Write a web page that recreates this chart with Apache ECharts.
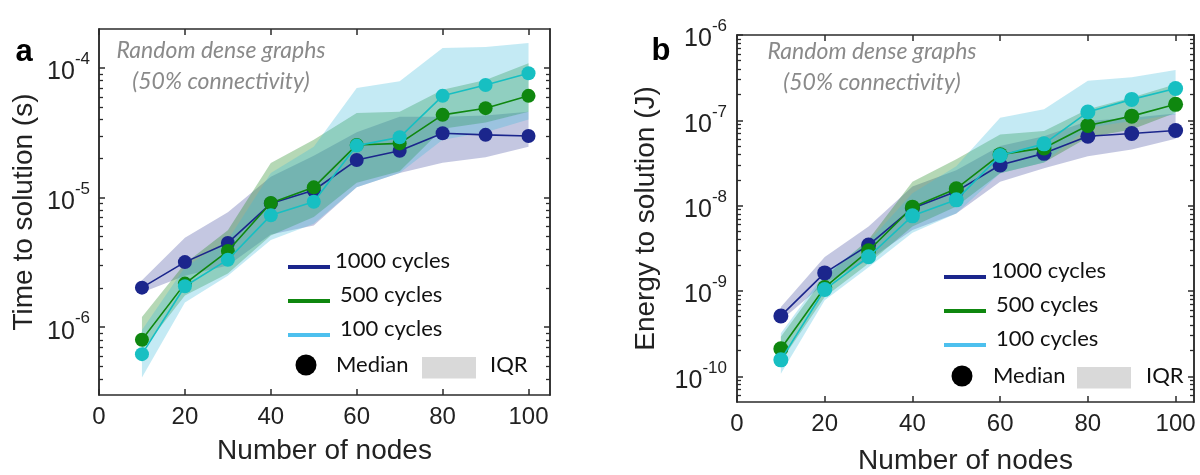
<!DOCTYPE html>
<html><head><meta charset="utf-8">
<script src="https://cdn.jsdelivr.net/npm/echarts@6/dist/echarts.min.js"></script>
<style>html,body{margin:0;padding:0;background:#fff}#c{width:1200px;height:475px}</style>
</head><body><div id="c"></div>
<script>
// ---------- data ----------
const nodes = [10, 20, 30, 40, 50, 60, 70, 80, 90, 100];
const xTickValues = [0, 20, 40, 60, 80, 100];
const seriesNames = ['1000 cycles', '500 cycles', '100 cycles'];

// panel a : time to solution (s)
const timeMed1000 = [2.02e-6, 3.18e-6, 4.47e-6, 9.0e-6, 1.14e-5, 1.95e-5, 2.30e-5, 3.14e-5, 3.05e-5, 2.99e-5];
const timeLo1000  = [1.85e-6, 2.5e-6, 3.0e-6, 5.2e-6, 6.1e-6, 1.2e-5, 1.55e-5, 1.86e-5, 2.05e-5, 2.47e-5];
const timeHi1000  = [2.3e-6, 4.9e-6, 7.7e-6, 1.45e-5, 2.1e-5, 3.2e-5, 4.2e-5, 4.2e-5, 4.3e-5, 4.6e-5];
const timeMed500  = [8.0e-7, 2.17e-6, 3.87e-6, 9.1e-6, 1.2e-5, 2.55e-5, 2.62e-5, 4.35e-5, 4.9e-5, 6.1e-5];
const timeLo500   = [6.6e-7, 1.76e-6, 2.6e-6, 5.1e-6, 7.1e-6, 1.3e-5, 1.6e-5, 3.4e-5, 3.8e-5, 4.6e-5];
const timeHi500   = [1.2e-6, 3.1e-6, 5.6e-6, 1.85e-5, 2.8e-5, 4.5e-5, 4.6e-5, 6.8e-5, 8.1e-5, 1.09e-4];
const timeMed100  = [6.2e-7, 2.07e-6, 3.32e-6, 7.3e-6, 9.3e-6, 2.52e-5, 2.92e-5, 6.1e-5, 7.4e-5, 9.1e-5];
const timeLo100   = [4.1e-7, 1.55e-6, 2.5e-6, 4.7e-6, 6.3e-6, 1.2e-5, 1.55e-5, 2.8e-5, 3.2e-5, 4.0e-5];
const timeHi100   = [9.5e-7, 2.9e-6, 4.7e-6, 1.55e-5, 2.47e-5, 7.0e-5, 7.9e-5, 1.43e-4, 1.45e-4, 1.56e-4];
const timeDecades = [1e-6, 1e-5, 1e-4];

// panel b : energy to solution (J)
const energyMed1000 = [5.1e-10, 1.63e-9, 3.45e-9, 9.3e-9, 1.47e-8, 3.0e-8, 4.1e-8, 6.5e-8, 7.0e-8, 7.6e-8];
const energyLo1000  = [4.5e-10, 1.23e-9, 2.3e-9, 5.2e-9, 8.1e-9, 1.9e-8, 2.75e-8, 3.8e-8, 4.55e-8, 6.1e-8];
const energyHi1000  = [6.5e-10, 2.5e-9, 5.7e-9, 1.68e-8, 2.6e-8, 5.0e-8, 6.5e-8, 9.8e-8, 1.07e-7, 1.2e-7];
const energyMed500  = [2.1e-10, 1.1e-9, 2.96e-9, 9.6e-9, 1.58e-8, 3.96e-8, 4.75e-8, 8.7e-8, 1.12e-7, 1.54e-7];
const energyLo500   = [1.5e-10, 8.5e-10, 2.1e-9, 5.7e-9, 9.8e-9, 2.4e-8, 3.2e-8, 6.3e-8, 7.8e-8, 1.23e-7];
const energyHi500   = [2.9e-10, 1.46e-9, 4.0e-9, 1.9e-8, 3.5e-8, 6.8e-8, 7.5e-8, 1.35e-7, 1.85e-7, 2.65e-7];
const energyMed100  = [1.56e-10, 1.04e-9, 2.52e-9, 7.6e-9, 1.17e-8, 3.87e-8, 5.3e-8, 1.25e-7, 1.76e-7, 2.36e-7];
const energyLo100   = [1.07e-10, 7.8e-10, 1.9e-9, 4.8e-9, 8.1e-9, 2.4e-8, 3.2e-8, 8.2e-8, 9.8e-8, 1.17e-7];
const energyHi100   = [3.2e-10, 1.6e-9, 3.8e-9, 1.4e-8, 2.9e-8, 1.07e-7, 1.35e-7, 2.9e-7, 3.2e-7, 3.9e-7];
const energyDecades = [1e-10, 1e-9, 1e-8, 1e-7, 1e-6];

// ---------- style ----------
const lineColors = ['#1b268c', '#0f870f', '#17bfc2'];
const legendColors = ['#1b268c', '#0f870f', '#4dc0ee'];
const bandColors = ['rgba(27,38,140,0.26)', 'rgba(25,135,25,0.32)', 'rgba(60,185,220,0.3)'];
const AX = '#2b2b2b';
const NUM_FONT = 'Liberation Sans';
const TXT_FONT = 'Lato';

function minorTicks(lo, hi) {
  const out = [];
  for (let e = Math.floor(Math.log10(lo)) - 1; e <= Math.ceil(Math.log10(hi)); e++) {
    for (let k = 2; k <= 9; k++) {
      const v = k * Math.pow(10, e);
      if (v > lo * 1.0001 && v < hi * 0.9999) out.push(v);
    }
  }
  return out;
}

function supLabel(v) {
  const e = Math.round(Math.log10(v));
  return '{b|10}{s|' + e + '}';
}

const option = {
  backgroundColor: '#fff',
  animation: false,
  grid: [
    { left: 99, top: 29, right: 650, bottom: 80, outerBoundsMode: 'none' },
    { left: 737, top: 35, right: 6, bottom: 73, outerBoundsMode: 'none' }
  ],
  xAxis: [], yAxis: [], series: [], legend: [], graphic: []
};

function addPanel(g, cfg) {
  const xi0 = option.xAxis.length;
  const xBase = { type: 'value', gridIndex: g, min: 0, max: cfg.xMax, splitLine: { show: false },
    axisLine: { show: true, onZero: false, lineStyle: { color: AX, width: 1.5 } } };
  option.xAxis.push(Object.assign({}, xBase, {
    position: 'bottom',
    name: 'Number of nodes', nameLocation: 'middle', nameGap: cfg.xNameGap,
    nameTextStyle: { fontFamily: NUM_FONT, fontSize: 28, color: '#222' },
    axisTick: { show: true, inside: true, length: 6, customValues: xTickValues, lineStyle: { color: AX, width: 1.5 } },
    axisLabel: { show: true, customValues: xTickValues, margin: 10, fontFamily: NUM_FONT, fontSize: 24, color: '#222' }
  }));
  option.xAxis.push(Object.assign({}, xBase, {
    position: 'top',
    axisTick: { show: true, inside: true, length: 6, customValues: xTickValues, lineStyle: { color: AX, width: 1.5 } },
    axisLabel: { show: false }
  }));
  const yi0 = option.yAxis.length;
  const minors = minorTicks(cfg.yMin, cfg.yMax);
  const yBase = { type: 'log', logBase: 10, gridIndex: g, min: cfg.yMin, max: cfg.yMax, splitLine: { show: false },
    axisLine: { show: true, onZero: false, lineStyle: { color: AX, width: 1.5 } } };
  ['left', 'right'].forEach(pos => {
    option.yAxis.push(Object.assign({}, yBase, {
      position: pos,
      name: pos === 'left' ? cfg.yName : '', nameLocation: 'middle', nameGap: cfg.yNameGap,
      nameTextStyle: { fontFamily: NUM_FONT, fontSize: 28, color: '#222' },
      axisTick: { show: true, inside: true, length: 6, customValues: cfg.decades, lineStyle: { color: AX, width: 1.5 } },
      axisLabel: pos === 'left' ? {
        show: true, customValues: cfg.decades, margin: cfg.yLabelMargin, formatter: supLabel,
        rich: {
          b: { fontFamily: NUM_FONT, fontSize: 25, color: '#222', lineHeight: 34, verticalAlign: 'bottom' },
          s: { fontFamily: NUM_FONT, fontSize: 17, color: '#222', verticalAlign: 'top' }
        }
      } : { show: false }
    }));
    option.yAxis.push(Object.assign({}, yBase, {
      position: pos,
      axisTick: { show: true, inside: true, length: 4, customValues: minors, lineStyle: { color: AX, width: 1.3 } },
      axisLabel: { show: false }
    }));
  });
  // IQR bands
  cfg.bands.forEach((b, k) => {
    option.series.push({
      type: 'custom', name: seriesNames[k], xAxisIndex: xi0, yAxisIndex: yi0, clip: true, silent: true, z: 1,
      data: nodes.map((x, i) => [x, b.lo[i], b.hi[i]]),
      encode: { x: 0, y: [1, 2] },
      renderItem: (params, api) => {
        if (params.dataIndex !== 0) return null;
        const pts = [];
        for (let i = 0; i < nodes.length; i++) pts.push(api.coord([nodes[i], b.hi[i]]));
        for (let i = nodes.length - 1; i >= 0; i--) pts.push(api.coord([nodes[i], b.lo[i]]));
        return { type: 'polygon', shape: { points: pts }, style: { fill: bandColors[k] } };
      }
    });
  });
  // medians
  cfg.medians.forEach((m, k) => {
    option.series.push({
      type: 'line', name: seriesNames[k], xAxisIndex: xi0, yAxisIndex: yi0, z: 3 + k,
      data: nodes.map((x, i) => [x, m[i]]),
      symbol: 'circle', symbolSize: cfg.symbolSize, showSymbol: true,
      lineStyle: { color: lineColors[k], width: 1.6 },
      itemStyle: { color: lineColors[k] }
    });
  });
  // legend
  option.legend.push({
    orient: 'vertical', left: cfg.legLeft, top: cfg.legTop, padding: 0, itemGap: 0,
    itemWidth: 42, itemHeight: 4, icon: 'rect', selectedMode: false,
    data: seriesNames.map((n, k) => ({ name: n, icon: 'rect', itemStyle: { color: legendColors[k], borderWidth: 0 } })),
    formatter: n => n === '1000 cycles' ? '{t|' + n + '}' : '{p|' + n + '}',
    textStyle: {
      rich: {
        t: { fontFamily: TXT_FONT, fontSize: 22, color: '#111', lineHeight: 22, padding: [0, 0, 12, 0] },
        p: { fontFamily: TXT_FONT, fontSize: 22, color: '#111', lineHeight: 22, padding: [0, 0, 12, 5] }
      }
    }
  });
  // Median / IQR key, annotation and panel letter
  const L = cfg.key;
  option.graphic.push(
    { type: 'circle', shape: { cx: L.cx, cy: L.cy, r: 10.5 }, style: { fill: '#000' }, silent: true },
    { type: 'text', x: L.medX, y: L.cy, style: { text: 'Median', fontFamily: TXT_FONT, fontSize: 22, fill: '#111', verticalAlign: 'middle' }, silent: true },
    { type: 'rect', shape: { x: L.rx, y: L.ry, width: 54, height: 21.5 }, style: { fill: '#d9d9d9' }, silent: true },
    { type: 'text', x: L.iqrX, y: L.cy, style: { text: 'IQR', fontFamily: TXT_FONT, fontSize: 22, fill: '#111', verticalAlign: 'middle' }, silent: true },
    { type: 'text', x: cfg.noteX, y: cfg.noteY, style: { text: 'Random dense graphs\n(50% connectivity)', fontFamily: TXT_FONT, fontStyle: 'italic', fontSize: 23, lineHeight: 31, fill: '#8a8a8a', align: 'center', verticalAlign: 'top' }, silent: true },
    { type: 'text', x: cfg.letterX, y: cfg.letterY, style: { text: cfg.letter, fontFamily: NUM_FONT, fontWeight: 'bold', fontSize: 31, fill: '#000', align: 'center', verticalAlign: 'alphabetic' }, silent: true }
  );
}

addPanel(0, {
  xMax: 105, xNameGap: 42, yMin: 3e-7, yMax: 2e-4, decades: timeDecades,
  yName: 'Time to solution (s)', yNameGap: 61, yLabelMargin: 9, symbolSize: 14,
  bands: [{ lo: timeLo1000, hi: timeHi1000 }, { lo: timeLo500, hi: timeHi500 }, { lo: timeLo100, hi: timeHi100 }],
  medians: [timeMed1000, timeMed500, timeMed100],
  legLeft: 288, legTop: 250,
  key: { cx: 306, cy: 365, medX: 336, rx: 422, ry: 357, iqrX: 490 },
  noteX: 221, noteY: 35, letter: 'a', letterX: 24, letterY: 37
});
addPanel(1, {
  xMax: 104.2, xNameGap: 45, yMin: 5e-11, yMax: 1e-6, decades: energyDecades,
  yName: 'Energy to solution (J)', yNameGap: 77, yLabelMargin: 10, symbolSize: 15,
  bands: [{ lo: energyLo1000, hi: energyHi1000 }, { lo: energyLo500, hi: energyHi500 }, { lo: energyLo100, hi: energyHi100 }],
  medians: [energyMed1000, energyMed500, energyMed100],
  legLeft: 944, legTop: 260,
  key: { cx: 962, cy: 376, medX: 993, rx: 1077, ry: 367, iqrX: 1146 },
  noteX: 872, noteY: 36, letter: 'b', letterX: 661, letterY: 36
});

const chart = echarts.init(document.getElementById('c'), null, { renderer: 'canvas' });
chart.setOption(option);
</script>
</body></html>
